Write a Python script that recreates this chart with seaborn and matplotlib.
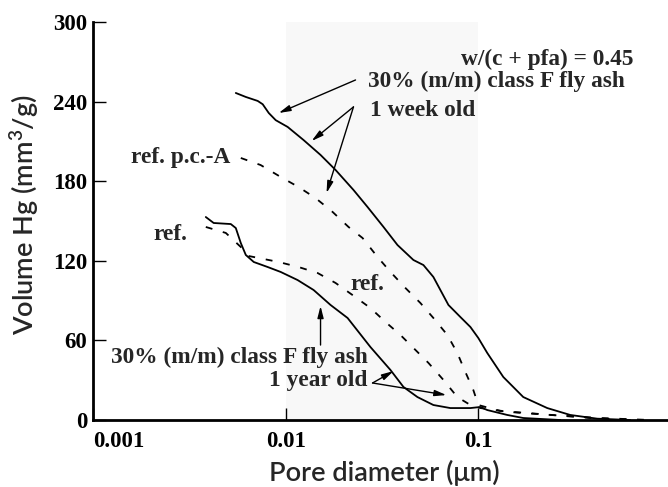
import matplotlib
matplotlib.use("Agg")
import matplotlib.pyplot as plt
import numpy as np
import pandas as pd
import seaborn as sns

# Mercury intrusion curves: cumulative intruded volume vs pore diameter
# 30% class F fly ash paste, 1 week old (solid)
week_fa_d = [0.00551, 0.00621, 0.00716, 0.0076, 0.00817, 0.00888, 0.01024, 0.01239,
             0.01517, 0.01815, 0.02249, 0.02659, 0.0322, 0.03805, 0.04604, 0.05188,
             0.05844, 0.06353, 0.06996, 0.08072, 0.09097, 0.1, 0.1113, 0.1348,
             0.1711, 0.2279, 0.2999, 0.414, 0.614]
week_fa_v = [246.5, 243.5, 240.5, 238, 231.4, 226, 220.9, 211,
             199.8, 188.5, 173.4, 160.6, 145.5, 131.9, 120.6, 116.8,
             107.8, 98, 86.7, 77.6, 70.1, 61.8, 50.5, 32.4,
             17.3, 9, 3.8, 1, 0]

# reference p.c.-A paste, 1 week old (dashed)
week_ref_d = [0.00585, 0.00741, 0.00942, 0.01167, 0.01429, 0.01753, 0.0212, 0.02506,
              0.02997, 0.03499, 0.04185, 0.05003, 0.05844, 0.06905, 0.0778, 0.08564,
              0.09419, 0.1, 0.13, 0.2095, 0.38, 0.69]
week_ref_v = [197.5, 192.2, 183.2, 175.6, 167.3, 156.8, 145.5, 137.2,
              122.9, 111.6, 99.5, 88.2, 76.9, 64.1, 50.5, 36.2,
              22.6, 11.3, 6.8, 4.5, 1.5, 0]

# 30% class F fly ash paste, 1 year old (solid)
year_fa_d = [0.00385, 0.00423, 0.00519, 0.00551, 0.00585, 0.00621, 0.00683, 0.00807,
             0.00942, 0.01153, 0.01396, 0.0171, 0.02096, 0.02754, 0.03499, 0.04087,
             0.0483, 0.05844, 0.07156, 0.09097, 0.1024, 0.1113, 0.1413, 0.1711, 0.266]
year_fa_v = [153, 148.5, 147.7, 144.7, 133.4, 124.4, 119.1, 115.3,
             111.6, 105.5, 98, 86.7, 76.9, 55, 37.7, 24.9,
             17.3, 11.3, 9, 9, 9.8, 7.5, 3.8, 1.5, 0]

# reference paste, 1 year old (dashed)
year_ref_d = [0.00385, 0.00489, 0.00585, 0.00643, 0.00725, 0.0092, 0.01167, 0.01465,
              0.01815, 0.02223, 0.02754, 0.03296, 0.03941, 0.04716, 0.05511, 0.0659,
              0.0778, 0.09097, 0.1024, 0.1465, 0.236, 0.428, 0.778]
year_ref_v = [145.5, 141, 130.4, 123.6, 122.1, 119.1, 115.3, 110.8,
              103.3, 94.2, 84.4, 73.9, 64.1, 52.8, 43, 30.2,
              17.3, 11.3, 9, 6, 3.8, 1.5, 0]

x_ticks = [0.001, 0.01, 0.1]
x_tick_labels = ["0.001", "0.01", "0.1"]
y_ticks = [0, 60, 120, 180, 240, 300]

sns.set_style("ticks")
serif = ["Liberation Serif", "DejaVu Serif"]
sans = ["Lato", "DejaVu Sans"]
plt.rcParams["font.family"] = serif
plt.rcParams["font.weight"] = "bold"
plt.rcParams["mathtext.fontset"] = "custom"
plt.rcParams["mathtext.rm"] = "Lato:semibold"
plt.rcParams["mathtext.it"] = "Lato:italic"
plt.rcParams["mathtext.bf"] = "Lato:bold"

fig = plt.figure(figsize=(6.68, 4.87), dpi=100)
W, H = 668, 487
x0, x1, y_top, y_bot = 93, 668, 22, 420
ax = fig.add_axes([x0 / W, (H - y_bot) / H, (x1 - x0) / W, (y_bot - y_top) / H])
ax.set_xscale("log")
ax.set_xlim(0.001, 10 ** (-2 + (x1 - 285) / 193))
ax.set_ylim(0, 300)

ax.axvspan(0.01, 0.1, color="#f8f8f8", zorder=0, lw=0)

dash = (0, (3.8, 6))
curves = [
    (week_fa_d, week_fa_v, "-"),
    (week_ref_d, week_ref_v, dash),
    (year_fa_d, year_fa_v, "-"),
    (year_ref_d, year_ref_v, dash),
]
for d, v, ls in curves:
    df = pd.DataFrame({"d": d, "v": v})
    sns.lineplot(data=df, x="d", y="v", ax=ax, color="black", lw=1.3,
                 linestyle=ls, sort=False, estimator=None)

# axes styling
for side in ("top", "right"):
    ax.spines[side].set_visible(False)
for side in ("left", "bottom"):
    ax.spines[side].set_linewidth(2)
    ax.spines[side].set_color("black")

ax.set_yticks(y_ticks)
ax.set_yticklabels([str(t) for t in y_ticks])
ax.set_xticks(x_ticks)
labels = ax.set_xticklabels(x_tick_labels)
labels[0].set_ha("left")
ax.xaxis.set_minor_locator(matplotlib.ticker.NullLocator())
ax.tick_params(axis="both", direction="in", length=9, width=1, colors="black",
               labelsize=16.5)
ax.tick_params(axis="x", pad=8)
ax.tick_params(axis="y", pad=4)

ax.set_xlabel("Pore diameter (\u03bcm)", family=sans, fontsize=19.5, fontweight="semibold")
ax.set_ylabel("Volume Hg (mm$^{3}$/g)", family=sans, fontsize=19.5, fontweight="semibold")
ax.xaxis.set_label_coords((384 - x0) / (x1 - x0), (y_bot - 473) / (y_bot - y_top))
ax.xaxis.label.set_va("center")
ax.yaxis.set_label_coords((25 - x0) / (x1 - x0), (y_bot - 215) / (y_bot - y_top))
ax.yaxis.label.set_va("center")

# labels
fs = 16.8
ax.text(0.6355, 272, "w/(c + pfa) = 0.45", ha="right", va="center", fontsize=fs)
ax.text(0.0266, 255, "30% (m/m) class F fly ash", ha="left", va="center", fontsize=fs)
ax.text(0.0275, 233, "1 week old", ha="left", va="center", fontsize=fs)
ax.text(0.00519, 197.5, "ref. p.c.-A", ha="right", va="center", fontsize=fs)
ax.text(0.0031, 140, "ref.", ha="right", va="center", fontsize=fs)
ax.text(0.0217, 102, "ref.", ha="left", va="center", fontsize=fs)
ax.text(0.0266, 47.5, "30% (m/m) class F fly ash", ha="right", va="center", fontsize=fs)
ax.text(0.0266, 30, "1 year old", ha="right", va="center", fontsize=fs)

arrow = dict(arrowstyle="-|>,head_length=0.7,head_width=0.18", lw=1, color="black",
             shrinkA=0, shrinkB=0)
arrows = [
    ((0.02305, 256.3), (0.0092, 231.4)),
    ((0.02249, 236), (0.01364, 210.3)),
    ((0.02249, 236), (0.0163, 171.1)),
    ((0.01517, 56.5), (0.01517, 85.9)),
    ((0.02825, 27.9), (0.03631, 36.9)),
    ((0.02825, 27.9), (0.06826, 18.8)),
]
for start, tip in arrows:
    ax.annotate("", xy=tip, xytext=start, arrowprops=arrow)

fig.savefig("out.png", dpi=100)
